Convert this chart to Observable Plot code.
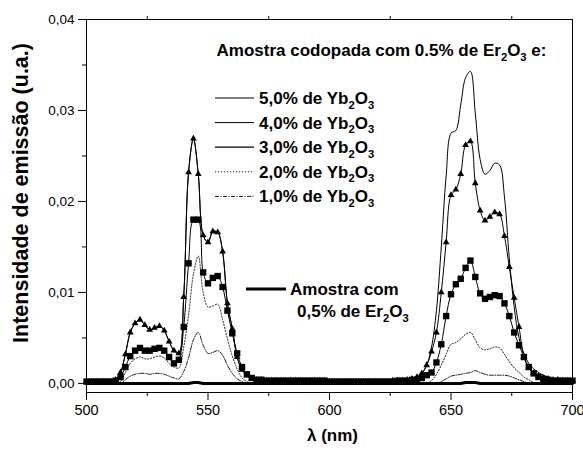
<!DOCTYPE html>
<html><head><meta charset="utf-8">
<script src="https://cdn.jsdelivr.net/npm/d3@7"></script>
<script src="https://cdn.jsdelivr.net/npm/@observablehq/plot@0.6"></script>
<style>body{margin:0;background:#fff} #chart{width:583px;height:452px}</style>
</head><body><div id="chart"></div>
<script>
// wavelengths (nm), 2 nm steps from 500 to 700
const wavelength = d3.range(500, 701, 2);

// 5,0% Yb2O3 (thin solid line)
const yb50 = [
.0002,.0002,.0002,.0002,.0002,.0002,.0004,.0012,.0032,.0056,
.0066,.0070,.0064,.0059,.0061,.0063,.0058,.0046,.0036,.0033,
.0095,.0232,.0269,.0230,.0163,.0155,.0167,.0166,.0145,.0088,
.0060,.0029,.0015,.0009,.0005,.0004,.0004,.0003,.0003,.0003,
.0003,.0003,.0003,.0003,.0003,.0003,.0003,.0003,.0003,.0003,
.0002,.0002,.0002,.0002,.0002,.0002,.0002,.0002,.0002,.0002,
.0002,.0002,.0002,.0003,.0003,.0003,.0004,.0005,.0007,.0011,
.0020,.0040,.0080,.0150,.0228,.0275,.0278,.0306,.0336,.0343,
.0297,.0246,.0230,.0234,.0242,.0240,.0205,.0137,.0084,.0050,
.0033,.0022,.0016,.0012,.0009,.0007,.0005,.0004,.0004,.0003,
.0003];

// 4,0% Yb2O3 (line + triangles)
const yb40 = [
.0002,.0002,.0002,.0002,.0002,.0002,.0004,.0012,.0032,.0056,
.0066,.0070,.0064,.0059,.0061,.0063,.0058,.0046,.0036,.0033,
.0095,.0232,.0269,.0230,.0163,.0155,.0167,.0166,.0145,.0088,
.0060,.0029,.0015,.0009,.0005,.0004,.0004,.0003,.0003,.0003,
.0003,.0003,.0003,.0003,.0003,.0003,.0003,.0003,.0003,.0003,
.0002,.0002,.0002,.0002,.0002,.0002,.0002,.0002,.0002,.0002,
.0002,.0002,.0002,.0003,.0003,.0003,.0004,.0005,.0007,.0011,
.0020,.0035,.0056,.0100,.0155,.0207,.0213,.0230,.0262,.0266,
.0220,.0190,.0179,.0183,.0188,.0186,.0162,.0128,.0094,.0062,
.0029,.0017,.0011,.0008,.0006,.0005,.0004,.0004,.0003,.0003,
.0003];

// 3,0% Yb2O3 (line + squares)
const yb30 = [
.0002,.0002,.0002,.0002,.0002,.0002,.0003,.0007,.0018,.0030,
.0036,.0039,.0036,.0036,.0038,.0039,.0036,.0029,.0022,.0026,
.0062,.0132,.0180,.0180,.0122,.0110,.0116,.0118,.0106,.0080,
.0055,.0033,.0018,.0010,.0006,.0004,.0004,.0003,.0003,.0003,
.0003,.0003,.0003,.0003,.0003,.0003,.0003,.0003,.0003,.0003,
.0002,.0002,.0002,.0002,.0002,.0002,.0002,.0002,.0002,.0002,
.0002,.0002,.0002,.0002,.0003,.0003,.0003,.0004,.0004,.0006,
.0009,.0012,.0023,.0043,.0074,.0098,.0109,.0115,.0127,.0135,
.0117,.0099,.0093,.0095,.0097,.0096,.0088,.0074,.0056,.0042,
.0029,.0018,.0011,.0007,.0005,.0004,.0003,.0003,.0003,.0003,
.0003];

// 2,0% Yb2O3 (dotted)
const yb20 = [
0,0,0,0,0,0,0,.0002,.0012,.0022,
.0027,.0029,.0027,.0027,.0029,.0030,.0028,.0022,.0018,.0017,
.0040,.0075,.0120,.0140,.0100,.0084,.0085,.0087,.0070,.0049,
.0030,.0016,.0006,.0002,0,0,0,0,0,0,
0,0,0,0,0,0,0,0,0,0,
0,0,0,0,0,0,0,0,0,0,
0,0,0,0,0,0,0,0,0,0,
0,.0003,.0010,.0020,.0032,.0043,.0045,.0049,.0054,.0056,
.0048,.0039,.0037,.0038,.0040,.0039,.0032,.0024,.0017,.0012,
.0007,.0004,.0001,0,0,0,0,0,0,0,
0];

// 1,0% Yb2O3 (dash-dot)
const yb10 = [
0,0,0,0,0,0,0,0,.0004,.0008,
.0010,.0011,.0011,.0010,.0011,.0011,.0010,.0008,.0006,.0005,
.0013,.0028,.0048,.0056,.0042,.0033,.0034,.0036,.0031,.0020,
.0011,.0005,.0002,0,0,0,0,0,0,0,
0,0,0,0,0,0,0,0,0,0,
0,0,0,0,0,0,0,0,0,0,
0,0,0,0,0,0,0,0,0,0,
0,0,0,.0002,.0005,.0008,.0009,.0010,.0011,.0012,
.0014,.0012,.0010,.0009,.0009,.0009,.0009,.0008,.0006,.0004,
.0002,0,0,0,0,0,0,0,0,0,
0];

// Amostra com 0,5% de Er2O3 (thick line)
const er05 = [
0,0,0,0,0,0,0,0,0,0,
0,0,0,0,0,0,0,0,0,0,
0,0,.0001,.0001,0,0,0,0,0,0,
0,0,0,0,0,0,0,0,0,0,
0,0,0,0,0,0,0,0,0,0,
0,0,0,0,0,0,0,0,0,0,
0,0,0,0,0,0,0,0,0,0,
0,0,0,0,0,0,0,0,.0001,.0001,
.0001,0,0,0,0,0,0,0,0,0,
0,0,0,0,0,0,0,0,0,0,
0];

const xMajor = [500, 550, 600, 650, 700];
const xMinor = [525, 575, 625, 675];
const yMajor = [0, 0.01, 0.02, 0.03, 0.04];
const yMinor = [0.005, 0.015, 0.025, 0.035];
const legendPct = ["5,0%", "4,0%", "3,0%", "2,0%", "1,0%"];

const FONT = "'Liberation Sans', Arial, Helvetica, sans-serif";
const toRows = arr => wavelength.map((w, i) => ({x: w, y: arr[i]}));
const d50 = toRows(yb50), d40 = toRows(yb40), d30 = toRows(yb30),
      d20 = toRows(yb20), d10 = toRows(yb10), d05 = toRows(er05);
const fmtY = d => d3.format(".2f")(d).replace(".", ",");

const svg = Plot.plot({
  width: 583, height: 452,
  marginLeft: 86, marginRight: 11, marginTop: 19, marginBottom: 60,
  style: {fontFamily: FONT, background: "white", color: "black", overflow: "visible"},
  x: {domain: [500, 700]},
  y: {domain: [-0.001, 0.04]},
  marks: [
    Plot.line(d10, {x: "x", y: "y", stroke: "black", strokeWidth: 0.9, strokeDasharray: "4,1.5,1,1.5", curve: "catmull-rom"}),
    Plot.line(d20, {x: "x", y: "y", stroke: "black", strokeWidth: 0.9, strokeDasharray: "1.2,1.8", curve: "catmull-rom"}),
    Plot.line(d30, {x: "x", y: "y", stroke: "black", strokeWidth: 1, curve: "catmull-rom"}),
    Plot.dot(d30, {x: "x", y: "y", symbol: "square", r: 3.6, fill: "black", stroke: "none"}),
    Plot.line(d40, {x: "x", y: "y", stroke: "black", strokeWidth: 1, curve: "catmull-rom"}),
    Plot.dot(d40, {x: "x", y: "y", symbol: "triangle", r: 2.5, fill: "black", stroke: "none"}),
    Plot.line(d50, {x: "x", y: "y", stroke: "black", strokeWidth: 1, curve: "catmull-rom"}),
    Plot.line(d05, {x: "x", y: "y", stroke: "black", strokeWidth: 3, curve: "catmull-rom"}),
    Plot.frame({stroke: "black", strokeWidth: 1}),
    Plot.axisX(xMajor, {anchor: "bottom", tickSize: 8, tickPadding: 4, fontSize: 14.5, label: null, tickFormat: d => String(d)}),
    Plot.axisX(xMinor, {anchor: "bottom", tickSize: 4, label: null, tickFormat: () => ""}),
    Plot.axisX(xMinor, {anchor: "top", tickSize: 4, label: null, tickFormat: () => ""}),
    Plot.axisY(yMajor, {anchor: "left", tickSize: 8, tickPadding: 4, fontSize: 13.5, label: null, tickFormat: fmtY}),
    Plot.axisY(yMinor, {anchor: "left", tickSize: 4, label: null, tickFormat: () => ""}),
    Plot.text(["λ (nm)"], {frameAnchor: "bottom", textAnchor: "middle", dx: 3, dy: 48, fontSize: 17, fontWeight: "bold", fill: "black"}),
    Plot.text(["Intensidade de emissão (u.a.)"], {frameAnchor: "left", textAnchor: "middle", dx: -65, dy: -13, rotate: -90, fontSize: 21.5, fontWeight: "bold", fill: "black"})
  ]
});

// Legend with chemical subscripts
const g = d3.select(svg).append("g")
  .attr("font-family", FONT).attr("font-weight", "bold").attr("fill", "black")
  .attr("text-anchor", "start");
const SUB = 4.5;
function rich(x, y, parts, size) {
  const t = g.append("text").attr("x", x).attr("y", y).attr("font-size", size)
    .attr("text-anchor", "start");
  let down = false;
  for (const p of parts) {
    if (typeof p === "string") {
      const s = t.append("tspan").text(p);
      if (down) { s.attr("dy", -SUB); down = false; }
    } else {
      t.append("tspan").attr("font-size", size * 0.66).attr("dy", SUB).text(p.sub);
      down = true;
    }
  }
}
const LS = 17;
rich(216.5, 56, ["Amostra codopada com 0.5% de Er", {sub: "2"}, "O", {sub: "3"}, " e:"], LS);

const styles = [
  {w: 1, dash: null},
  {w: 1, dash: null},
  {w: 1.2, dash: null},
  {w: 0.9, dash: "1.2,1.8"},
  {w: 0.9, dash: "4,1.5,1,1.5"}
];
legendPct.forEach((p, i) => {
  const cy = 98 + i * 24.6;
  const l = g.append("line").attr("x1", 215).attr("x2", 254).attr("y1", cy).attr("y2", cy)
    .attr("stroke", "black").attr("stroke-width", styles[i].w);
  if (styles[i].dash) l.attr("stroke-dasharray", styles[i].dash);
  rich(259, cy + 6, [p + " de Yb", {sub: "2"}, "O", {sub: "3"}], LS);
});

g.append("line").attr("x1", 246).attr("x2", 286).attr("y1", 289).attr("y2", 289)
  .attr("stroke", "black").attr("stroke-width", 3);
rich(290, 295, ["Amostra com"], LS);
rich(297, 317, ["0,5% de Er", {sub: "2"}, "O", {sub: "3"}], LS);

document.getElementById("chart").appendChild(svg);
</script>
</body></html>
